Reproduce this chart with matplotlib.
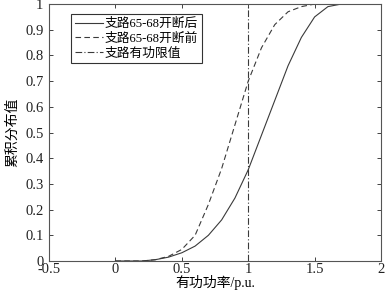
import matplotlib
matplotlib.use('Agg')
import matplotlib.pyplot as plt

plt.rcParams['font.family'] = ['Liberation Serif', 'Noto Sans CJK SC']
plt.rcParams['axes.unicode_minus'] = False

# 支路65-68开断后
x_after = [0, 0.2, 0.3, 0.4, 0.5, 0.6, 0.7, 0.8, 0.9, 1.0, 1.1, 1.2, 1.3, 1.4, 1.5, 1.6, 1.7]
y_after = [0, 0, 0.005, 0.015, 0.032, 0.058, 0.1, 0.16, 0.245, 0.355, 0.49, 0.625, 0.76, 0.87, 0.95, 0.99, 1.0]

# 支路65-68开断前
x_before = [0, 0.2, 0.3, 0.4, 0.5, 0.6, 0.7, 0.8, 0.9, 1.0, 1.1, 1.2, 1.3, 1.4, 1.5]
y_before = [0, 0, 0.005, 0.018, 0.045, 0.1, 0.22, 0.36, 0.53, 0.70, 0.83, 0.92, 0.97, 0.99, 1.0]

limit_value = 1.0

labels = ['支路65-68开断后', '支路65-68开断前', '支路有功限值']
x_ticks = [-0.5, 0, 0.5, 1, 1.5, 2]
x_ticklabels = ['-0.5', '0', '0.5', '1', '1.5', '2']
y_ticks = [0, 0.1, 0.2, 0.3, 0.4, 0.5, 0.6, 0.7, 0.8, 0.9, 1]
y_ticklabels = ['0', '0.1', '0.2', '0.3', '0.4', '0.5', '0.6', '0.7', '0.8', '0.9', '1']

fig = plt.figure(figsize=(3.87, 2.90), dpi=100)
ax = fig.add_axes([0.1266, 0.1, 0.858, 0.886])

line_color = '#3a3a3a'
ax.plot(x_after, y_after, '-', color=line_color, lw=0.8, label=labels[0])
ax.plot(x_before, y_before, '--', color=line_color, lw=0.8, dashes=(5, 3), label=labels[1])
ax.axvline(limit_value, color=line_color, lw=0.8, linestyle=(0, (6, 2, 1, 2)), label=labels[2])

ax.set_xlim(-0.5, 2)
ax.set_ylim(0, 1)
ax.set_xticks(x_ticks)
ax.set_xticklabels(x_ticklabels)
ax.set_yticks(y_ticks)
ax.set_yticklabels(y_ticklabels)
ax.tick_params(direction='in', top=True, right=True, length=3, width=0.6,
               labelsize=10.5, colors='#222222')
ax.tick_params(axis='x', pad=1.5)
ax.tick_params(axis='y', pad=4)
for s in ax.spines.values():
    s.set_linewidth(0.8)
    s.set_color('#555555')

ax.set_xlabel('有功功率/p.u.', fontsize=10)
ax.xaxis.set_label_coords(0.5, -0.054)
ax.set_ylabel('累积分布值', fontsize=10)
ax.yaxis.set_label_coords(-0.09, 0.5)

leg = ax.legend(loc='upper left', bbox_to_anchor=(0.066, 0.961), fontsize=9.2,
                handlelength=2.2, handletextpad=0.15, labelspacing=0.2,
                borderpad=0.3, borderaxespad=0, fancybox=False, frameon=True)
leg.get_frame().set_edgecolor('black')
leg.get_frame().set_linewidth(0.8)

plt.savefig('out.png', dpi=100)
plt.close()
